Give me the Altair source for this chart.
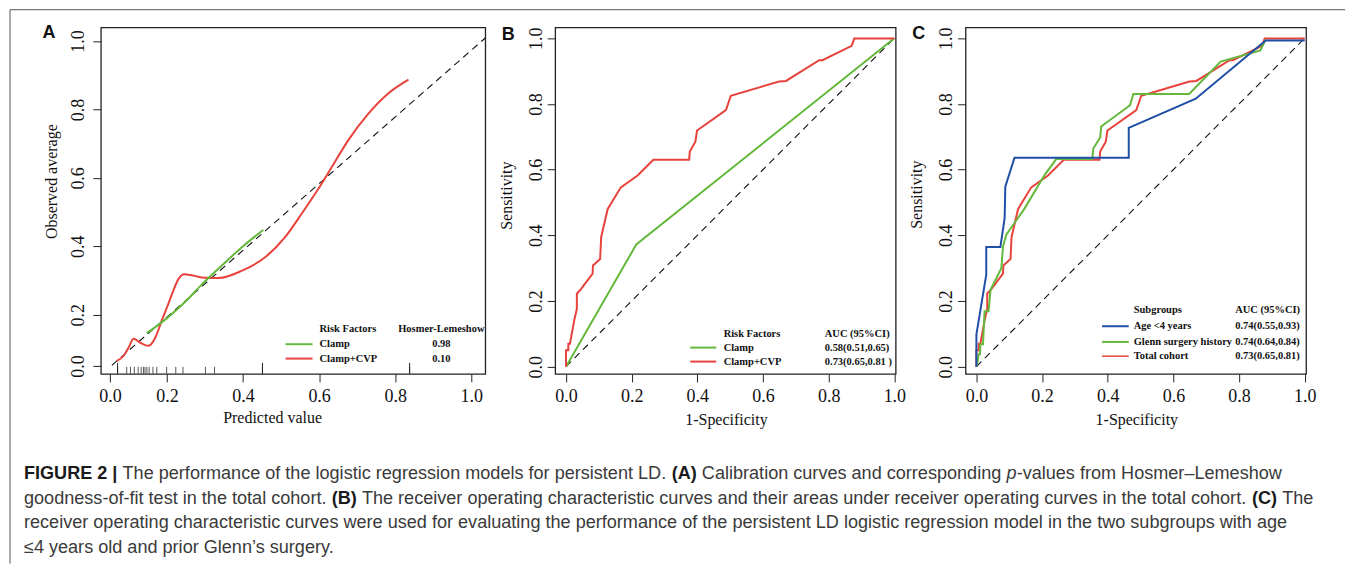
import altair as alt
import pandas as pd

SERIF = "Liberation Serif"
SANS = "Liberation Sans"
RED = "#e8423c"
GREEN = "#64b83c"
BLUE = "#1f4fa6"
INK = "#111111"

# ---------------- Panel A : calibration ----------------
A_TICKS = [0.05, 0.2, 0.4, 0.6, 0.8, 1.0]
A_DIAG_X = [0.055, 1.037]
A_DIAG_Y = [0.052, 1.009]
A_CLAMP_X = [0.147, 0.2, 0.25, 0.291, 0.35, 0.4, 0.453]
A_CLAMP_Y = [0.146, 0.19, 0.24, 0.288, 0.35, 0.40, 0.448]
A_CVP_X = [0.068, 0.086, 0.099, 0.112, 0.13, 0.151, 0.17, 0.186, 0.2, 0.213, 0.23, 0.245,
           0.262, 0.291, 0.335, 0.396, 0.457, 0.51, 0.554, 0.598, 0.633, 0.676, 0.729, 0.781, 0.835]
A_CVP_Y = [0.065, 0.080, 0.104, 0.130, 0.118, 0.109, 0.135, 0.182, 0.222, 0.260, 0.304, 0.318,
           0.316, 0.309, 0.307, 0.328, 0.367, 0.426, 0.495, 0.568, 0.631, 0.709, 0.787, 0.846, 0.887]
A_RUG = [0.070, 0.094, 0.104, 0.114, 0.124, 0.132, 0.138, 0.142, 0.147, 0.153, 0.163, 0.173,
         0.199, 0.223, 0.242, 0.301, 0.325, 0.451, 0.838]
A_RUG_LONG = [0.070, 0.451, 0.838]
A_LEG_HEAD = ["Risk Factors", "Hosmer-Lemeshow"]
A_LEG_NAMES = ["Clamp", "Clamp+CVP"]
A_LEG_VALUES = ["0.98", "0.10"]

# ---------------- Panel B : ROC total cohort ----------------
ROC_TICKS = [0.0, 0.2, 0.4, 0.6, 0.8, 1.0]
DIAG = [0.0, 1.0]
B_CLAMP_X = [0.0, 0.214, 1.0]
B_CLAMP_Y = [0.0, 0.372, 1.0]
CVP_X = [0.0, 0.0, 0.007, 0.007, 0.012, 0.025, 0.033, 0.033, 0.046, 0.081, 0.082, 0.104, 0.107,
         0.127, 0.167, 0.218, 0.266, 0.375, 0.377, 0.394, 0.399, 0.487, 0.502, 0.649, 0.670,
         0.771, 0.781, 0.870, 0.878, 1.0]
CVP_Y = [0.0, 0.05, 0.05, 0.07, 0.07, 0.141, 0.176, 0.222, 0.237, 0.283, 0.308, 0.328, 0.394,
         0.480, 0.546, 0.582, 0.630, 0.630, 0.655, 0.685, 0.719, 0.781, 0.825, 0.868, 0.870,
         0.933, 0.933, 0.977, 0.999, 0.999]
B_LEG_HEAD = ["Risk Factors", "AUC (95%CI)"]
B_LEG_NAMES = ["Clamp", "Clamp+CVP"]
B_LEG_VALUES = ["0.58(0.51,0.65)", "0.73(0.65,0.81 )"]

# ---------------- Panel C : ROC subgroups ----------------
C_AGE_X = [0.0, 0.0, 0.030, 0.030, 0.073, 0.086, 0.088, 0.116, 0.464, 0.464, 0.668, 0.881, 1.0]
C_AGE_Y = [0.0, 0.098, 0.28, 0.364, 0.364, 0.452, 0.548, 0.636, 0.636, 0.727, 0.816, 0.993, 0.993]
C_GLENN_X = [0.0, 0.003, 0.007, 0.011, 0.012, 0.020, 0.025, 0.037, 0.043, 0.076, 0.081, 0.091,
             0.147, 0.208, 0.243, 0.353, 0.356, 0.377, 0.380, 0.468, 0.478, 0.648, 0.744, 0.865, 0.881]
C_GLENN_Y = [0.0, 0.012, 0.038, 0.038, 0.068, 0.068, 0.169, 0.169, 0.234, 0.300, 0.366, 0.402,
             0.482, 0.584, 0.632, 0.632, 0.664, 0.698, 0.731, 0.796, 0.830, 0.830, 0.929, 0.963, 0.996]
C_LEG_HEAD = ["Subgroups", "AUC (95%CI)"]
C_LEG_NAMES = ["Age <4 years", "Glenn surgery history", "Total cohort"]
C_LEG_VALUES = ["0.74(0.55,0.93)", "0.74(0.64,0.84)", "0.73(0.65,0.81)"]

PANEL_LETTERS = ["A", "B", "C"]

# ---------------- Caption ----------------
CAPTION_LINES = [
    [("b", "FIGURE 2 |", False), ("r", "The performance of the logistic regression models for persistent LD.", True),
     ("b", "(A)", True), ("r", "Calibration curves and corresponding", True), ("i", "p", True),
     ("r", "-values from Hosmer\u2013Lemeshow", False)],
    [("r", "goodness-of-fit test in the total cohort.", False), ("b", "(B)", True),
     ("r", "The receiver operating characteristic curves and their areas under receiver operating curves in the total cohort.", True),
     ("b", "(C)", True), ("r", "The", True)],
    [("r", "receiver operating characteristic curves were used for evaluating the performance of the persistent LD logistic regression model in the two subgroups with age", False)],
    [("r", "\u22644 years old and prior Glenn\u2019s surgery.", False)],
]

REG_W = dict(zip("abcdefghijklmnopqrstuvwxyz",
                 [556, 556, 500, 556, 556, 278, 556, 556, 222, 222, 500, 222, 833, 556, 556, 556, 556,
                  333, 500, 278, 556, 500, 722, 500, 500, 500]))
REG_W.update({"A": 667, "B": 667, "C": 722, "D": 722, "E": 667, "F": 611, "G": 778, "H": 722,
              "I": 278, "L": 556, "R": 722, "T": 611, "U": 722, " ": 278, ".": 278, ",": 278,
              "-": 333, "\u2013": 556, "|": 260, "(": 333, ")": 333, "\u2019": 222, "\u2264": 549})
BOLD_W = {"F": 611, "I": 278, "G": 778, "U": 722, "R": 722, "E": 667, " ": 278, "2": 556,
          "|": 280, "(": 333, ")": 333, "A": 722, "B": 722, "C": 722}


def units(s, style):
    table = BOLD_W if style == "b" else REG_W
    return sum(table.get(ch, 556) for ch in s) / 1000.0


def line_units(line):
    u = 0.0
    for style, s, sp in line:
        if sp:
            u += REG_W[" "] / 1000.0
        u += units(s, style)
    return u


CAP_SIZE = 1260.0 / line_units(CAPTION_LINES[0])


def scales(xdom, ydom, xax, yax):
    X = alt.X("x:Q", scale=alt.Scale(domain=xdom, nice=False, zero=False), axis=xax)
    Y = alt.Y("y:Q", scale=alt.Scale(domain=ydom, nice=False, zero=False), axis=yax)
    return X, Y


def x_axis(values, title, tx, ty, expr=None):
    d = dict(values=values, title=title, grid=False, domain=False, tickSize=8, tickColor="#222",
             tickWidth=1, labelFont=SERIF, labelFontSize=18, labelColor=INK, labelPadding=6,
             labelAngle=0, labelAlign="center", labelBaseline="top", labelFlush=False,
             labelOverlap=False, titleFont=SERIF, titleFontSize=16, titleFontWeight="normal",
             titleColor=INK, titleX=tx, titleY=ty, titleAlign="center", titleBaseline="middle",
             titleAngle=0)
    if expr:
        d["labelExpr"] = expr
    return alt.Axis(**d)


def y_axis(values, title, tx, ty, pad, expr=None):
    d = dict(values=values, title=title, grid=False, domain=False, tickSize=8, tickColor="#222",
             tickWidth=1, labelFont=SERIF, labelFontSize=18, labelColor=INK, labelPadding=pad,
             labelAngle=270, labelAlign="center", labelBaseline="alphabetic", labelFlush=False,
             labelOverlap=False, titleFont=SERIF, titleFontSize=16, titleFontWeight="normal",
             titleColor=INK, titleX=tx, titleY=ty, titleAlign="center", titleBaseline="middle",
             titleAngle=270)
    if expr:
        d["labelExpr"] = expr
    return alt.Axis(**d)


def curve(xs, ys, X, Y, color, width=2.0, dash=None, interp="linear"):
    df = pd.DataFrame({"x": xs, "y": ys, "i": list(range(len(xs)))})
    kw = dict(color=color, strokeWidth=width, interpolate=interp, clip=True)
    if dash is not None:
        kw["strokeDash"] = dash
    return alt.Chart(df).mark_line(**kw).encode(x=X, y=Y, order="i:Q")


def label(text, x, y, size, weight="normal", font=SERIF, align="left", color=INK, style="normal"):
    return alt.Chart(pd.DataFrame({"t": [text]})).mark_text(
        font=font, fontSize=size, fontWeight=weight, fontStyle=style, align=align,
        baseline="middle", color=color).encode(x=alt.value(x), y=alt.value(y), text="t:N")


def hseg(x1, x2, y, color, width=2.0):
    return alt.Chart(pd.DataFrame({"k": [0]})).mark_rule(color=color, strokeWidth=width).encode(
        x=alt.value(x1), x2=alt.value(x2), y=alt.value(y))


def vseg(x, y1, y2, color, width=1.0):
    return alt.Chart(pd.DataFrame({"k": [0]})).mark_rule(color=color, strokeWidth=width).encode(
        x=alt.value(x), y=alt.value(y1), y2=alt.value(y2))


def legend(heads, head_y, col1_x, col2_x, names, values, colors, widths, row_ys, line_x, val_align):
    out = [label(heads[0], col1_x, head_y, 10.5, "bold"),
           label(heads[1], col2_x, head_y, 10.5, "bold", align=val_align)]
    for n, v, c, w, ry in zip(names, values, colors, widths, row_ys):
        out.append(hseg(line_x[0], line_x[1], ry, c, w))
        out.append(label(n, col1_x, ry, 10.5, "bold"))
        out.append(label(v, col2_x, ry, 10.5, "bold", align=val_align))
    return out


H = 347
WA, WB, WC = 385, 341, 341

# ---------------- Panel A ----------------
a_expr = "datum.value < 0.1 ? '0.0' : format(datum.value, '.1f')"
XA, YA = scales([0.026, 1.037], [0.027, 1.040],
                x_axis(A_TICKS, "Predicted value", 171.5, 44, a_expr),
                y_axis(A_TICKS, "Observed average", -49, 154, 9, a_expr))
rug_df = pd.DataFrame({"x": A_RUG})
rug_long_df = pd.DataFrame({"x": A_RUG_LONG})
a_layers = [
    curve(A_DIAG_X, A_DIAG_Y, XA, YA, "#111", 1.1, [7, 5]),
    alt.Chart(rug_df).mark_rule(color="#555", strokeWidth=1).encode(
        x=XA, y=alt.value(H - 7), y2=alt.value(H)),
    alt.Chart(rug_long_df).mark_rule(color="#222", strokeWidth=1).encode(
        x=XA, y=alt.value(H - 11), y2=alt.value(H)),
    curve(A_CVP_X, A_CVP_Y, XA, YA, RED, 2.0, interp="monotone"),
    curve(A_CLAMP_X, A_CLAMP_Y, XA, YA, GREEN, 2.0, interp="monotone"),
    label(PANEL_LETTERS[0], -52, 6, 18, "bold", SANS, "center"),
]
a_layers += legend(A_LEG_HEAD, 302, 219, 341, A_LEG_NAMES, A_LEG_VALUES, [GREEN, RED],
                   [2, 2], [317.3, 331.7], (185, 212), "center")
# frame around the figure
a_layers.append(hseg(-91, 1246, -17.7, "#555", 1))
a_layers.append(vseg(-91, -17.7, 537, "#555", 1))
# caption
cap_colors = {"b": "#1a1a1a", "r": "#3a3a3a", "i": "#3a3a3a"}
cap_y = [447.5, 472, 496.5, 521]
for line, ly in zip(CAPTION_LINES, cap_y):
    cx = -77.0
    for style, s, sp in line:
        if sp:
            cx += REG_W[" "] / 1000.0 * CAP_SIZE
        a_layers.append(label(s, cx, ly, CAP_SIZE, "bold" if style == "b" else "normal", SANS,
                              "left", cap_colors[style], "italic" if style == "i" else "normal"))
        cx += units(s, style) * CAP_SIZE
panel_a = alt.layer(*a_layers).properties(width=WA, height=H)

# ---------------- Panel B ----------------
XB, YB = scales([-0.033, 1.004], [-0.022, 1.033],
                x_axis(ROC_TICKS, "1-Specificity", 171, 45.5),
                y_axis(ROC_TICKS, "Sensitivity", -49, 168, 6))
b_layers = [
    curve(DIAG, DIAG, XB, YB, "#111", 1.1, [7, 5]),
    curve(B_CLAMP_X, B_CLAMP_Y, XB, YB, GREEN, 2.0),
    curve(CVP_X, CVP_Y, XB, YB, RED, 2.0),
    label(PANEL_LETTERS[1], -47, 8, 18, "bold", SANS, "center"),
]
b_layers += legend(B_LEG_HEAD, 307.4, 168.7, 270, B_LEG_NAMES, B_LEG_VALUES, [GREEN, RED],
                   [2, 2], [320.7, 334.7], (135.3, 161.3), "left")
panel_b = alt.layer(*b_layers).properties(width=WB, height=H)

# ---------------- Panel C ----------------
XC, YC = scales([-0.033, 1.004], [-0.022, 1.033],
                x_axis(ROC_TICKS, "1-Specificity", 171, 46),
                y_axis(ROC_TICKS, "Sensitivity", -49, 167, 6))
c_layers = [
    curve(DIAG, DIAG, XC, YC, "#111", 1.1, [7, 5]),
    curve(CVP_X, CVP_Y, XC, YC, RED, 2.0),
    curve(C_GLENN_X, C_GLENN_Y, XC, YC, GREEN, 2.0),
    curve(C_AGE_X, C_AGE_Y, XC, YC, BLUE, 2.0),
    label(PANEL_LETTERS[2], -47, 6.5, 18, "bold", SANS, "center"),
]
c_layers += legend(C_LEG_HEAD, 282.6, 168.4, 270, C_LEG_NAMES, C_LEG_VALUES, [BLUE, GREEN, RED],
                   [2, 2, 1.5], [299.3, 315, 329.3], (136.7, 163.4), "left")
panel_c = alt.layer(*c_layers).properties(width=WC, height=H)

chart = alt.hconcat(panel_a, panel_b, panel_c, spacing=70, bounds="flush").properties(
    padding=0, background="white"
).configure_view(stroke="#222", strokeWidth=1.3)

chart.save("out.html", embed_options={"renderer": "svg", "actions": False})
